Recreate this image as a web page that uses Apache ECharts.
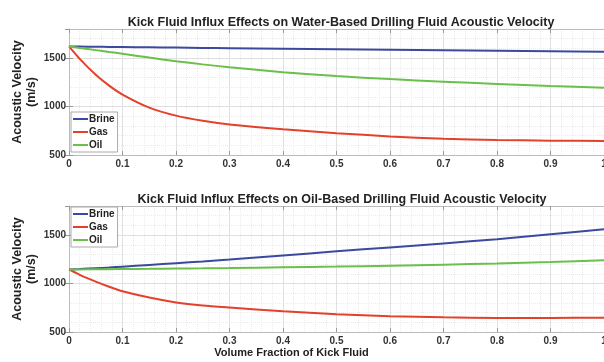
<!DOCTYPE html>
<html><head><meta charset="utf-8">
<script src="https://cdn.jsdelivr.net/npm/echarts@6/dist/echarts.min.js"></script>
<style>html,body{margin:0;padding:0;background:#fff}#c{width:604px;height:362px}</style>
</head><body><div id="c"></div>
<script>
var xFrac = [0, 0.02, 0.05, 0.075, 0.1, 0.15, 0.2, 0.25, 0.3, 0.4, 0.5, 0.6, 0.7, 0.8, 0.9, 1.0];
var wbBrine = [1620, 1619, 1617, 1615, 1614, 1611, 1608, 1605, 1602, 1597, 1592, 1586, 1581, 1575, 1570, 1565];
var wbGas   = [1620, 1492, 1328, 1216, 1124, 989, 906, 853, 815, 765, 725, 692, 668, 655, 648, 645];
var wbOil   = [1620, 1605, 1582, 1563, 1545, 1505, 1468, 1435, 1405, 1355, 1314, 1283, 1257, 1233, 1212, 1195];
var obBrine = [1145, 1150, 1158, 1165, 1174, 1192, 1210, 1228, 1248, 1290, 1332, 1373, 1414, 1458, 1508, 1560];
var obGas   = [1145, 1090, 1020, 967, 920, 855, 805, 773, 752, 714, 684, 663, 651, 645, 645, 648];
var obOil   = [1145, 1146, 1147, 1148, 1150, 1152, 1155, 1157, 1160, 1167, 1175, 1184, 1195, 1207, 1222, 1240];
var seriesNames = ['Brine', 'Gas', 'Oil'];
var titles = ['Kick Fluid Influx Effects on Water-Based Drilling Fluid Acoustic Velocity',
              'Kick Fluid Influx Effects on Oil-Based Drilling Fluid Acoustic Velocity'];
var xTitle = 'Volume Fraction of Kick Fluid';
var yTitle = 'Acoustic Velocity\n(m/s)';

var colors = ['#3b4a9e', '#e2422c', '#6bbf4a'];
var FF = '"Liberation Sans", Arial, sans-serif';
function pairs(ys){ return xFrac.map(function(x,i){ return [x, ys[i]]; }); }

var grids = [
  {left: 69, top: 29, width: 535, height: 126, containLabel:false, outerBoundsMode:'none'},
  {left: 69, top: 206, width: 535, height: 126, containLabel:false, outerBoundsMode:'none'}
];
var xAxes = [], yAxes = [];
[0,1].forEach(function(g){
  xAxes.push({type:'value', gridIndex:g, min:0, max:1, interval:0.1,
    name: g===1 ? xTitle : '', nameLocation:'middle', nameGap:15,
    nameTextStyle:{fontFamily:FF, fontWeight:'bold', fontSize:11, color:'#222', padding:[0,90,0,0]},
    axisLine:{show:true, lineStyle:{color:'#bbb', width:1}},
    axisTick:{show:true, inside:true, length:4, lineStyle:{color:'#999'}},
    axisLabel:{fontFamily:FF, fontWeight:'bold', fontSize:10, color:'#333', margin:4,
      formatter:function(v){ return v===0?'0':(v===1?'1':v.toFixed(1)); }},
    splitLine:{show:true, lineStyle:{color:'#e0e0e0', width:1}},
    minorTick:{show:false, splitNumber:5},
    minorSplitLine:{show:true, lineStyle:{color:'#ececec', width:1, type:'dotted'}}
  });
  xAxes.push({type:'value', gridIndex:g, position:'top', min:0, max:1, interval:0.1,
    axisLine:{show:true, lineStyle:{color:'#bbb'}},
    axisTick:{show:true, inside:true, length:4, lineStyle:{color:'#999'}},
    axisLabel:{show:false}, splitLine:{show:false}});
  yAxes.push({type:'value', gridIndex:g, min:500, max:1800, interval:500,
    name: yTitle, nameLocation:'middle', nameGap:30, nameRotate:90, nameMoveOverlap:false,
    nameTextStyle:{fontFamily:FF, fontWeight:'bold', fontSize:12.5, color:'#222', lineHeight:14},
    axisLine:{show:true, lineStyle:{color:'#bbb'}},
    axisTick:{show:true, inside:true, length:4, lineStyle:{color:'#999'}},
    axisLabel:{fontFamily:FF, fontWeight:'bold', fontSize:10, color:'#333', margin:3, showMaxLabel:false,
      formatter:function(v){ return String(v); }},
    splitLine:{show:true, lineStyle:{color:'#e0e0e0', width:1}},
    minorTick:{show:false, splitNumber:5},
    minorSplitLine:{show:true, lineStyle:{color:'#ececec', width:1, type:'dotted'}}
  });
  yAxes.push({type:'value', gridIndex:g, position:'right', min:500, max:1800, interval:500,
    axisLine:{show:false}, axisTick:{show:true, inside:true, length:4, lineStyle:{color:'#999'}},
    axisLabel:{show:false}, splitLine:{show:false}});
});

var data = [[wbBrine, wbGas, wbOil], [obBrine, obGas, obOil]];
var series = [];
[0,1].forEach(function(g){
  seriesNames.forEach(function(n, k){
    series.push({name:n, type:'line', xAxisIndex:g*2, yAxisIndex:g*2, data:pairs(data[g][k]),
      smooth:0.25, showSymbol:false, symbol:'none', lineStyle:{color:colors[k], width:2},
      itemStyle:{color:colors[k]}, silent:true, animation:false});
  });
});

var legendBase = {orient:'vertical', icon:'rect', itemWidth:15, itemHeight:2, itemGap:3,
  backgroundColor:'#fff', borderColor:'#aaa', borderWidth:1, padding:[2,3,2,2],
  textStyle:{fontFamily:FF, fontWeight:'bold', fontSize:10, color:'#222', padding:[0,0,0,-4]},
  data: seriesNames, selectedMode:false};
var legends = [
  Object.assign({}, legendBase, {left:71, top:112}),
  Object.assign({}, legendBase, {left:71, top:207})
];

var chart = echarts.init(document.getElementById('c'), null, {renderer:'canvas'});
chart.setOption({
  animation:false,
  color: colors,
  title: [
    {text:titles[0], left:336, top:11, textAlign:'center', textStyle:{fontFamily:FF, fontWeight:'bold', fontSize:12.5, color:'#222'}},
    {text:titles[1], left:337, top:188, textAlign:'center', textStyle:{fontFamily:FF, fontWeight:'bold', fontSize:12.5, color:'#222'}}
  ],
  legend: legends,
  grid: grids,
  xAxis: xAxes,
  yAxis: yAxes,
  series: series
});
</script></body></html>
